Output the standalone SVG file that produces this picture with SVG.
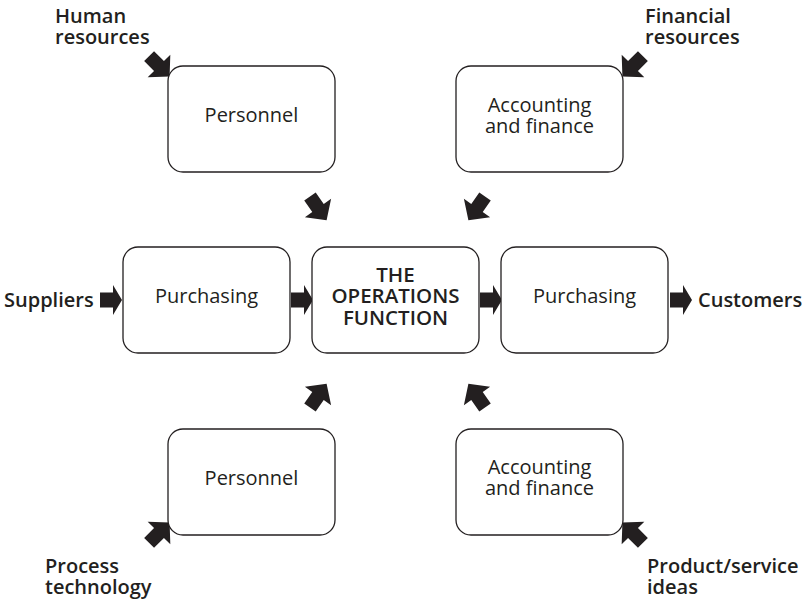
<svg xmlns="http://www.w3.org/2000/svg" width="806" height="603" viewBox="0 0 806 603">
  <defs>
    <style>
      .box { fill: #ffffff; stroke: #231f20; stroke-width: 1.3; }
      .lbl { font-family: "Open Sans", "Noto Sans", sans-serif; font-size: 20px; fill: #231f20; text-anchor: middle; }
      .core { font-family: "Open Sans", "Noto Sans", sans-serif; font-size: 20.5px; font-weight: 600; fill: #231f20; text-anchor: middle; }
      .src { font-family: "Open Sans", "Noto Sans", sans-serif; font-size: 20px; font-weight: 600; fill: #231f20; }
      .arr { fill: #231f20; }
    </style>
    <!-- straight block arrow, pointing +x, centred on origin -->
    <path id="blk" d="M-11,-7.5 H2 V-15 L11,0 L2,15 V7.5 H-11 Z"/>
    <!-- block arrow used on the diagonals -->
    <path id="dia" d="M-14,-7 H0 V-16 L15,0 L0,16 V7 H-14 Z"/>
  </defs>

  <rect width="806" height="603" fill="#ffffff"/>

  <g id="connectors" class="arr">
    <use href="#blk" transform="translate(111,300)"/>
    <use href="#blk" transform="translate(302,300)"/>
    <use href="#blk" transform="translate(491,300)"/>
    <use href="#blk" transform="translate(681,300)"/>
    <use href="#dia" transform="translate(159,66) rotate(45)"/>
    <use href="#dia" transform="translate(633,66) rotate(135)"/>
    <use href="#dia" transform="translate(318,208) rotate(55)"/>
    <use href="#dia" transform="translate(477,208) rotate(125)"/>
    <use href="#dia" transform="translate(318,396) rotate(-55)"/>
    <use href="#dia" transform="translate(477,396) rotate(-125)"/>
    <use href="#dia" transform="translate(159,533) rotate(-45)"/>
    <use href="#dia" transform="translate(633,533) rotate(-135)"/>
  </g>

  <g id="personnel-top">
    <rect class="box" x="168" y="66" width="167" height="106" rx="15"/>
    <text class="lbl" x="251.5" y="122">Personnel</text>
  </g>
  <g id="finance-top">
    <rect class="box" x="456" y="66" width="167" height="106" rx="15"/>
    <text class="lbl" x="539.5" y="112">Accounting</text>
    <text class="lbl" x="539.5" y="133">and finance</text>
  </g>
  <g id="purchasing-left">
    <rect class="box" x="123" y="247" width="167" height="106" rx="15"/>
    <text class="lbl" x="206.5" y="303">Purchasing</text>
  </g>
  <g id="operations">
    <rect class="box" x="312" y="247" width="167" height="106" rx="15"/>
    <text class="core" x="395.5" y="282">THE</text>
    <text class="core" x="395.5" y="303">OPERATIONS</text>
    <text class="core" x="395.5" y="325">FUNCTION</text>
  </g>
  <g id="purchasing-right">
    <rect class="box" x="501" y="247" width="167" height="106" rx="15"/>
    <text class="lbl" x="584.5" y="303">Purchasing</text>
  </g>
  <g id="personnel-bottom">
    <rect class="box" x="168" y="429" width="167" height="106" rx="15"/>
    <text class="lbl" x="251.5" y="485">Personnel</text>
  </g>
  <g id="finance-bottom">
    <rect class="box" x="456" y="429" width="167" height="106" rx="15"/>
    <text class="lbl" x="539.5" y="474">Accounting</text>
    <text class="lbl" x="539.5" y="495">and finance</text>
  </g>

  <g id="human-resources">
    <text class="src" x="55" y="23">Human</text>
    <text class="src" x="55" y="44">resources</text>
  </g>
  <g id="financial-resources">
    <text class="src" x="645" y="23">Financial</text>
    <text class="src" x="645" y="44">resources</text>
  </g>
  <g id="suppliers">
    <text class="src" x="4" y="307">Suppliers</text>
  </g>
  <g id="customers">
    <text class="src" x="698" y="307">Customers</text>
  </g>
  <g id="process-technology">
    <text class="src" x="45" y="573">Process</text>
    <text class="src" x="45" y="594">technology</text>
  </g>
  <g id="product-ideas">
    <text class="src" x="647" y="573">Product/service</text>
    <text class="src" x="647" y="594">ideas</text>
  </g>
</svg>
